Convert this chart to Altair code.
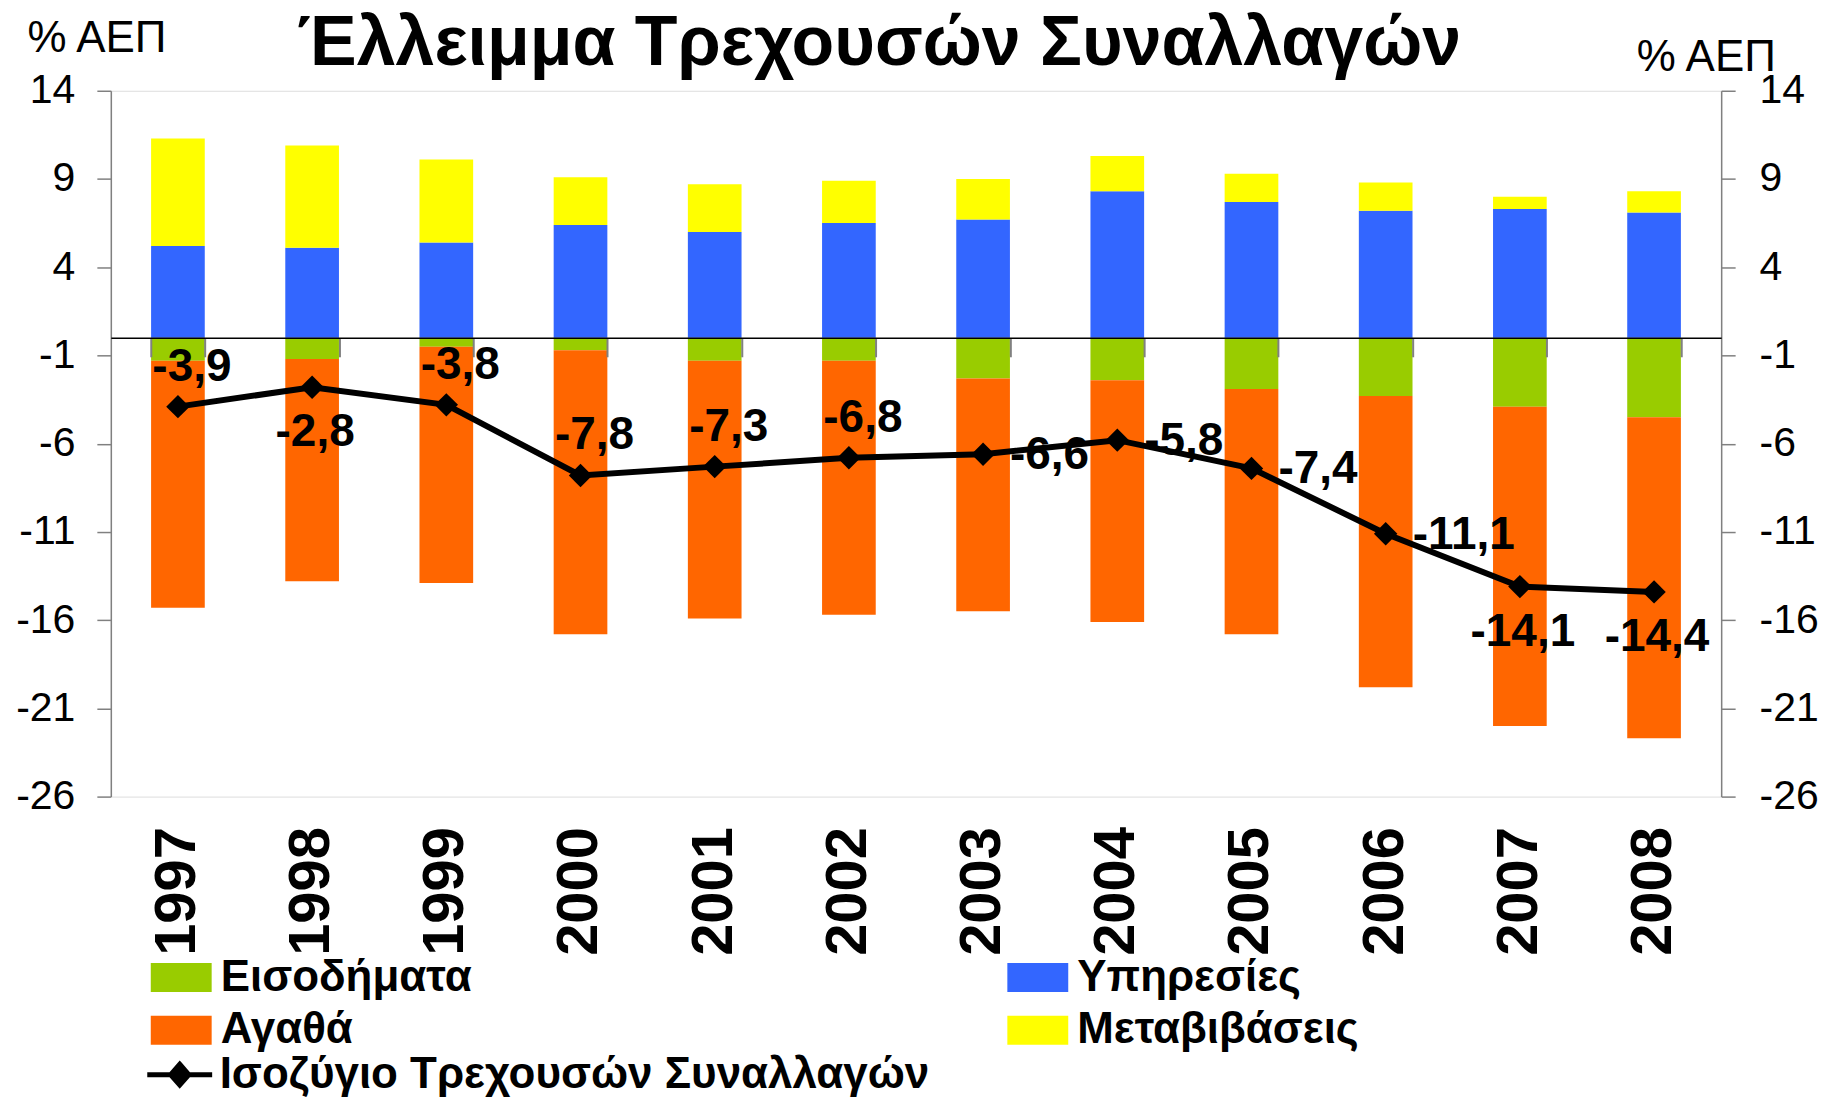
import altair as alt
import pandas as pd

years = ['1997', '1998', '1999', '2000', '2001', '2002', '2003', '2004', '2005', '2006', '2007', '2008']
income = [-1.3, -1.2, -0.5, -0.7, -1.3, -1.3, -2.3, -2.4, -2.9, -3.3, -3.9, -4.5]
goods = [-14.0, -12.6, -13.4, -16.1, -14.6, -14.4, -13.2, -13.7, -13.9, -16.5, -18.1, -18.2]
services = [5.2, 5.1, 5.4, 6.4, 6.0, 6.5, 6.7, 8.3, 7.7, 7.2, 7.3, 7.1]
transfers = [6.1, 5.8, 4.7, 2.7, 2.7, 2.4, 2.3, 2.0, 1.6, 1.6, 0.7, 1.2]
balance = [-3.9, -2.8, -3.8, -7.8, -7.3, -6.8, -6.6, -5.8, -7.4, -11.1, -14.1, -14.4]
label_side = ['above', 'below', 'above', 'above', 'above', 'above',
              'right', 'right', 'right', 'right', 'below', 'below']

# legend order (column-major in a 2-column legend) and colours
components = ['Εισοδήματα', 'Αγαθά', 'Υπηρεσίες', 'Μεταβιβάσεις']
comp_colors = ['#99CC00', '#FF6600', '#3366FF', '#FFFF00']
comp_values = [income, goods, services, transfers]
# stacking order away from zero (negatives and positives stacked separately)
stack_rank = [0, 1, 0, 1]
balance_name = 'Ισοζύγιο Τρεχουσών Συναλλαγών'
y_ticks = [14, 9, 4, -1, -6, -11, -16, -21, -26]
title_text = 'Έλλειμμα Τρεχουσών Συναλλαγών'
axis_title = '% ΑΕΠ'

FONT = 'Liberation Sans, Arial'

rows = []
for name, vals, rank in zip(components, comp_values, stack_rank):
    for y, v in zip(years, vals):
        rows.append({'year': y, 'component': name, 'value': v, 'order': rank})
bars_df = pd.DataFrame(rows)

bal_df = pd.DataFrame({
    'year': years,
    'balance': balance,
    'label': [f'{v:.1f}'.replace('.', ',') for v in balance],
    'side': label_side,
    'series': [balance_name] * len(years),
})

W, H = 1613, 707
zero_offset = -(H - H * 14 / 40.0)

x_scale = alt.Scale(domain=years, paddingInner=0.6, paddingOuter=0.3)
y_scale = alt.Scale(domain=[-26, 14], nice=False, zero=False)

y_axis_common = dict(
    values=y_ticks, grid=False, labelFont=FONT, labelFontSize=41, labelColor='black',
    labelExpr="'' + datum.value", tickSize=14, tickColor='#808080', tickWidth=1.5,
    domainColor='#808080', domainWidth=1.5, title=axis_title, titleAngle=0,
    titleAlign='left', titleBaseline='alphabetic', titleFont=FONT, titleFontSize=44,
    titleFontWeight='normal', titleColor='black',
)

bars = alt.Chart(bars_df).mark_bar().encode(
    x=alt.X('year:N', sort=years, scale=x_scale,
            axis=alt.Axis(orient='bottom', labelAngle=-90, labelFont=FONT, labelFontSize=58,
                          labelFontWeight='bold', labelColor='black', labelPadding=30,
                          ticks=False, domain=False, title=None, grid=False)),
    y=alt.Y('value:Q', stack='zero', scale=y_scale,
            axis=alt.Axis(orient='left', labelPadding=22, titleX=-84, titleY=-39, **y_axis_common)),
    color=alt.Color('component:N', scale=alt.Scale(domain=components, range=comp_colors),
                    legend=alt.Legend(title=None, orient='none', legendX=40, legendY=857.5,
                                      columns=2, columnPadding=536, rowPadding=-12,
                                      symbolType='M-1,-0.475L1,-0.475L1,0.475L-1,0.475Z',
                                      symbolSize=3721, symbolStrokeWidth=0,
                                      labelFont=FONT, labelFontSize=44, labelFontWeight='bold',
                                      labelColor='black', labelOffset=9, labelLimit=1000,
                                      padding=0)),
    order=alt.Order('order:Q', sort='ascending'),
)

line_symbol = ('M-1,0L1,0'
               'M0,-0.32L0.28,0L0,0.32L-0.28,0Z'
               'M0,-0.2L0.17,0L0,0.2L-0.17,0Z'
               'M0,-0.08L0.07,0L0,0.08L-0.07,0Z')

line = alt.Chart(bal_df).mark_line(strokeWidth=6).encode(
    x=alt.X('year:N', sort=years, scale=x_scale,
            axis=alt.Axis(orient='bottom', offset=zero_offset, labels=False, ticks=True,
                          tickBand='extent', tickSize=19, tickColor='#808080', tickWidth=2,
                          domain=True, domainColor='black', domainWidth=1.5, title=None,
                          grid=False, zindex=1)),
    y=alt.Y('balance:Q', scale=y_scale,
            axis=alt.Axis(orient='right', labelPadding=24, titleX=-85, titleY=-20, **y_axis_common)),
    stroke=alt.Stroke('series:N', scale=alt.Scale(domain=[balance_name], range=['black']),
                      legend=alt.Legend(title=None, orient='none', legendX=34, legendY=950.5,
                                        symbolType=line_symbol, symbolSize=4225,
                                        symbolStrokeWidth=5, symbolFillColor='black',
                                        labelFont=FONT, labelFontSize=44, labelFontWeight='bold',
                                        labelColor='black', labelOffset=5, labelLimit=1000,
                                        padding=0)),
)

x_plain = alt.X('year:N', sort=years, scale=x_scale, axis=None)
y_plain = alt.Y('balance:Q', scale=y_scale, axis=None)

points = alt.Chart(bal_df).mark_point(shape='diamond', filled=True, size=550, color='black',
                                      opacity=1).encode(x=x_plain, y=y_plain)

text_style = dict(font=FONT, fontSize=46, fontWeight='bold', color='black', baseline='middle')
lab_above = alt.Chart(bal_df).transform_filter(alt.datum.side == 'above').mark_text(
    align='center', dx=14, dy=-40, **text_style).encode(x=x_plain, y=y_plain, text='label:N')
lab_below = alt.Chart(bal_df).transform_filter(alt.datum.side == 'below').mark_text(
    align='center', dx=3, dy=45, **text_style).encode(x=x_plain, y=y_plain, text='label:N')
lab_right = alt.Chart(bal_df).transform_filter(alt.datum.side == 'right').mark_text(
    align='left', dx=27, dy=1, **text_style).encode(x=x_plain, y=y_plain, text='label:N')

chart = alt.layer(bars, line, points, lab_above, lab_below, lab_right).resolve_axis(
    x='independent', y='independent'
).properties(
    width=W, height=H,
    padding={'left': 103, 'top': 82, 'right': 98, 'bottom': 305},
    autosize=alt.AutoSizeParams(type='none'),
    title=alt.TitleParams(text=title_text, font=FONT, fontSize=70, fontWeight='bold',
                          color='black', anchor='middle', frame='group', dx=-37, dy=118,
                          offset=0, baseline='alphabetic'),
).configure_view(stroke=None).configure(background='white')

chart.save('out.html', embed_options={'renderer': 'svg', 'actions': False})
